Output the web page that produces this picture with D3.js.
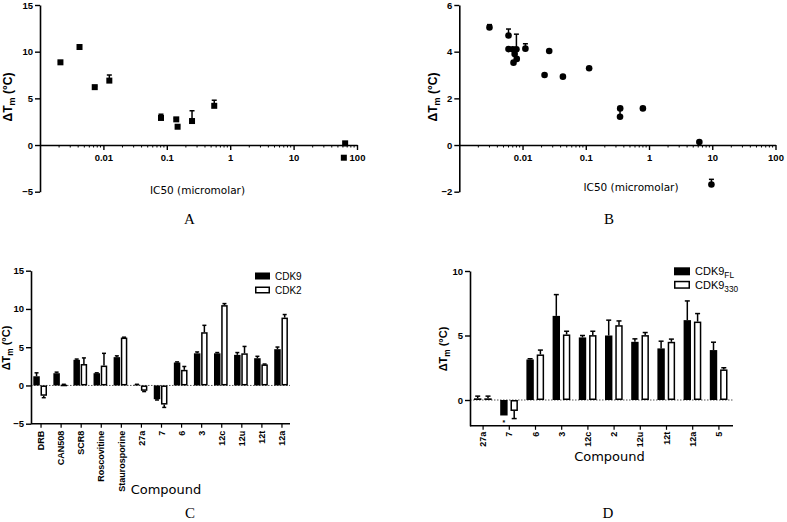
<!DOCTYPE html>
<html><head><meta charset="utf-8">
<script src="https://cdn.jsdelivr.net/npm/d3@7"></script>
<style>
body{margin:0;background:#fff}
svg{display:block}
text{font-family:"Liberation Sans",Arial,sans-serif;fill:#000}
</style></head><body>
<svg id="c" width="787" height="522"></svg>
<script>
// ---------- Panel A data ----------
const aIC50 = [0.0021, 0.0042, 0.0073, 0.0124, 0.081, 0.141, 0.148, 0.25, 0.56, 65, 62];
const aDTm  = [8.86, 10.5, 6.2, 6.9, 2.9, 2.75, 1.96, 2.57, 4.2, 0.18, -1.36];
const aErr  = [0.1, 0.1, 0.1, 0.6, 0.4, 0.1, 0.1, 1.1, 0.6, 0, 0];
const aYTicks = [-5, 0, 5, 10, 15];
// ---------- Panel B data ----------
const bIC50 = [0.003, 0.006, 0.006, 0.0070, 0.0072, 0.0081, 0.0080, 0.0075, 0.0111, 0.0223, 0.0264, 0.0435, 0.113, 0.348, 0.35, 0.80, 6.25, 9.7];
const bDTm  = [5.04, 4.69, 4.11, 4.1, 3.53, 3.69, 4.1, 3.9, 4.13, 3.0, 4.03, 2.93, 3.29, 1.21, 1.57, 1.57, 0.13, -1.69];
const bErr  = [0.12, 0.28, 0, 0, 0, 0, 0.65, 0, 0.21, 0, 0, 0, 0, 0.36, 0, 0, 0, 0.22];
const bYTicks = [-2, 0, 2, 4, 6];
const logTickLabels = ["0.01", "0.1", "1", "10", "100"];
// ---------- Panel C data ----------
const cCompounds = ["DRB","CAN508","SCR8","Roscovitine","Staurosporine","27a","7","6","3","12c","12u","12t","12a"];
const cCDK9    = [1.2, 1.6, 3.35, 1.6, 3.7, 0.1, -1.8, 3.0, 4.2, 4.2, 4.0, 3.56, 4.74];
const cCDK9Err = [0.45, 0.14, 0.1, 0.05, 0.17, 0.05, 0.1, 0.08, 0.18, 0.1, 0.3, 0.25, 0.28];
const cCDK2    = [-1.35, 0.1, 2.8, 2.6, 6.26, -0.7, -2.5, 2.04, 6.96, 10.5, 4.2, 2.75, 8.87];
const cCDK2Err = [0.25, 0.05, 0.8, 1.6, 0.05, 0.1, 0.37, 0.44, 0.9, 0.2, 0.9, 0.05, 0.4];
const cYTicks = [-5, 0, 5, 10, 15];
const cSeries = ["CDK9", "CDK2"];
// ---------- Panel D data ----------
const dCompounds = ["27a","7","6","3","12c","2","12u","12t","12a","5"];
const dFL     = [0.13, -1.2, 3.14, 6.52, 4.85, 5.0, 4.51, 4.0, 6.19, 3.87];
const dFLErr  = [0.17, 0.0, 0.06, 1.65, 0.15, 1.19, 0.23, 0.56, 1.49, 0.61];
const d330    = [0.13, -0.85, 3.53, 5.08, 5.03, 5.8, 5.03, 4.51, 6.08, 2.37];
const d330Err = [0.17, 0.59, 0.34, 0.25, 0.3, 0.33, 0.2, 0.21, 0.62, 0.13];
const dYTicks = [0, 5, 10];
const dSeries = [["CDK9","FL"], ["CDK9","330"]];

const svg = d3.select("#c");
const BOLD = "bold";

function yLabel(g, x, y, size) {
  const t = g.append("text").attr("transform", `translate(${x},${y}) rotate(-90)`)
    .attr("text-anchor", "middle").attr("font-weight", BOLD).attr("font-size", size);
  t.append("tspan").text("\u0394T");
  t.append("tspan").attr("font-size", size * 0.75).attr("dy", 3).text("m");
  t.append("tspan").attr("dy", -3).text(" (\u00B0C)");
}
function panelLetter(x, y, s) {
  svg.append("text").attr("x", x).attr("y", y).attr("text-anchor", "middle")
    .style("font-family", "'Liberation Serif','Times New Roman',serif").attr("font-size", 15).text(s);
}
function yAxis(g, y, x0, ticks) {
  const ax = d3.axisLeft(y).tickValues(ticks).tickSize(5).tickPadding(2).tickSizeOuter(0);
  const gg = g.append("g").attr("transform", `translate(${x0},0)`).call(ax);
  gg.select(".domain").attr("stroke-width", 1.6);
  gg.selectAll(".tick line").attr("stroke-width", 1.4);
  gg.selectAll("text").attr("font-size", 9.5).attr("font-weight", BOLD)
    .style("font-family", "'Liberation Sans',Arial,sans-serif");
  return gg;
}

// ---------- Scatter panels ----------
function scatterPanel(opts) {
  const g = svg.append("g");
  const x = d3.scaleLog().domain([0.001, 100]).range(opts.xr);
  const y = d3.scaleLinear().domain(opts.yd).range(opts.yr);
  yAxis(g, y, opts.xr[0], opts.yTicks);
  const majors = [0.01, 0.1, 1, 10, 100];
  const minors = [];
  for (let e = -3; e < 2; e++) for (let k = 2; k <= 9; k++) minors.push(k * Math.pow(10, e));
  const ax = d3.axisBottom(x).tickValues(majors).tickFormat((d, i) => logTickLabels[i])
    .tickSize(5).tickPadding(4).tickSizeOuter(0);
  const gx = g.append("g").attr("transform", `translate(0,${y(0)})`).call(ax);
  gx.select(".domain").attr("stroke-width", 1.6);
  gx.selectAll(".tick line").attr("stroke-width", 1.4);
  gx.selectAll("text").attr("font-size", 9.5).attr("font-weight", BOLD)
    .style("font-family", "'Liberation Sans',Arial,sans-serif");
  g.append("g").selectAll("line").data(minors).join("line")
    .attr("x1", d => x(d)).attr("x2", d => x(d))
    .attr("y1", y(0)).attr("y2", y(0) + 2.5).attr("stroke", "#000").attr("stroke-width", 1);
  const idx = d3.range(opts.xs.length);
  const eb = g.append("g").attr("stroke", "#000").attr("stroke-width", 1.5);
  idx.filter(i => opts.err[i] > 0).forEach(i => {
    const cx = x(opts.xs[i]), y0 = y(opts.ys[i]), y1 = y(opts.ys[i] + opts.err[i]);
    eb.append("line").attr("x1", cx).attr("x2", cx).attr("y1", y0).attr("y2", y1);
    eb.append("line").attr("x1", cx - 2.5).attr("x2", cx + 2.5).attr("y1", y1).attr("y2", y1);
  });
  if (opts.shape === "square") {
    g.append("g").selectAll("rect").data(idx).join("rect")
      .attr("x", i => x(opts.xs[i]) - 3).attr("y", i => y(opts.ys[i]) - 3)
      .attr("width", 6).attr("height", 6).attr("fill", "#000");
  } else {
    g.append("g").selectAll("circle").data(idx).join("circle")
      .attr("cx", i => x(opts.xs[i])).attr("cy", i => y(opts.ys[i]))
      .attr("r", 3.3).attr("fill", "#000");
  }
  g.append("text").attr("x", opts.xlab[0]).attr("y", opts.xlab[1]).attr("text-anchor", "middle")
    .style("font-family", "'DejaVu Sans',sans-serif").attr("font-size", 10.5).text("IC50 (micromolar)");
  yLabel(g, opts.ylab[0], opts.ylab[1], 12);
}

scatterPanel({xs: aIC50, ys: aDTm, err: aErr, shape: "square",
  xr: [40, 357], yd: [-5, 15], yr: [191.7, 5], yTicks: aYTicks,
  xlab: [197.5, 194], ylab: [12, 97]});
scatterPanel({xs: bIC50, ys: bDTm, err: bErr, shape: "circle",
  xr: [459.3, 775.5], yd: [-2, 6], yr: [191.7, 5], yTicks: bYTicks,
  xlab: [631, 191], ylab: [437, 97]});
panelLetter(189.5, 224, "A");
panelLetter(609, 224, "B");

// ---------- Bar panels ----------
function barPanel(opts) {
  const g = svg.append("g");
  const x0 = d3.scaleBand().domain(opts.cats).range(opts.xr).padding(0);
  const x1 = d3.scaleBand().domain([0, 1]).range(opts.innerR).paddingInner(opts.innerP);
  const y = d3.scaleLinear().domain(opts.yd).range(opts.yr);
  g.append("line").attr("x1", opts.xr[0]).attr("x2", opts.xEnd).attr("y1", y(0)).attr("y2", y(0))
    .attr("stroke", "#555").attr("stroke-width", 1).attr("stroke-dasharray", "1.5,1.5");
  const series = [opts.s0, opts.s1], errs = [opts.e0, opts.e1];
  series.forEach((vals, s) => {
    const gb = g.append("g");
    vals.forEach((v, i) => {
      const e = errs[s][i];
      if (!(e > 0)) return;
      const cx = x0(opts.cats[i]) + x1(s) + x1.bandwidth() / 2;
      const yb = y(v), ye = y(v >= 0 ? v + e : v - e);
      gb.append("line").attr("x1", cx).attr("x2", cx).attr("y1", yb).attr("y2", ye)
        .attr("stroke", "#000").attr("stroke-width", 1.5);
      gb.append("line").attr("x1", cx - opts.cap).attr("x2", cx + opts.cap).attr("y1", ye).attr("y2", ye)
        .attr("stroke", "#000").attr("stroke-width", 1.5);
    });
    gb.selectAll("rect").data(vals).join("rect")
      .attr("x", (v, i) => x0(opts.cats[i]) + x1(s) + (s ? 0.75 : 0))
      .attr("width", x1.bandwidth() - (s ? 1.5 : 0))
      .attr("y", v => Math.min(y(v), y(0)) + (s ? 0.75 : 0))
      .attr("height", v => Math.max(0.1, Math.abs(y(v) - y(0)) - (s ? 1.5 : 0)))
      .attr("fill", s ? "#fff" : "#000")
      .attr("stroke", "#000").attr("stroke-width", s ? 1.5 : 0);
  });
  yAxis(g, y, opts.xr[0], opts.yTicks);
  const ax = d3.axisBottom(x0).tickSize(4).tickSizeOuter(0).tickPadding(3);
  const gx = g.append("g").attr("transform", `translate(0,${opts.yr[0]})`).call(ax);
  gx.select(".domain").attr("d", `M${opts.xr[0]},0H${opts.xEnd}`).attr("stroke-width", 1.6);
  gx.selectAll(".tick line").attr("stroke-width", 1.2);
  gx.selectAll("text").attr("font-size", 9).attr("font-weight", BOLD)
    .style("font-family", "'Liberation Sans',Arial,sans-serif")
    .attr("text-anchor", "end").attr("dy", "0.35em")
    .attr("transform", `translate(0,${opts.labOff}) rotate(-90)`).attr("x", 0).attr("y", 0);
  g.append("text").attr("x", opts.xlab[0]).attr("y", opts.xlab[1]).attr("text-anchor", "middle")
    .style("font-family", "'DejaVu Sans',sans-serif").attr("font-size", 13).text("Compound");
  yLabel(g, opts.ylab[0], opts.ylab[1], opts.ylabSize);
  opts.legend.forEach((lab, s) => {
    const ly = opts.legPos[1] + s * opts.legGap;
    g.append("rect").attr("x", opts.legPos[0] + (s ? 0.75 : 0)).attr("y", ly + (s ? 0.75 : 0))
      .attr("width", opts.legW - (s ? 1.5 : 0)).attr("height", opts.legH - (s ? 1.5 : 0))
      .attr("fill", s ? "#fff" : "#000").attr("stroke", "#000").attr("stroke-width", s ? 1.5 : 0);
    const t = g.append("text").attr("x", opts.legPos[0] + opts.legW + 5).attr("y", ly + opts.legH / 2)
      .attr("dy", "0.35em").attr("font-size", opts.legFont);
    if (Array.isArray(lab)) {
      t.append("tspan").text(lab[0]);
      t.append("tspan").attr("font-size", opts.legFont * 0.75).attr("dy", 3).text(lab[1]);
    } else t.text(lab);
  });
  return {g, x0, x1, y};
}

barPanel({cats: cCompounds, s0: cCDK9, e0: cCDK9Err, s1: cCDK2, e1: cCDK2Err,
  xr: [31, 292], xEnd: 290, innerR: [2.3, 16], innerP: 0.1, cap: 2,
  yd: [-5, 15], yr: [423.7, 270.7], yTicks: cYTicks, labOff: 7,
  xlab: [166, 494], ylab: [10, 348], ylabSize: 11,
  legend: cSeries, legPos: [255, 272.5], legW: 15, legH: 7, legGap: 14, legFont: 10});

const D = barPanel({cats: dCompounds, s0: dFL, e0: dFLErr, s1: d330, e1: d330Err,
  xr: [470, 732], xEnd: 733, innerR: [4, 21.7], innerP: 0.28, cap: 2.5,
  yd: [-2, 10], yr: [425.8, 271], yTicks: dYTicks, labOff: 6,
  xlab: [609.5, 461], ylab: [447, 349], ylabSize: 11,
  legend: dSeries, legPos: [674, 267.3], legW: 16, legH: 8, legGap: 13.5, legFont: 11});
D.g.append("text").attr("x", D.x0("7") + D.x1(0) + D.x1.bandwidth() / 2).attr("y", D.y(-1.65))
  .attr("text-anchor", "middle").attr("dy", "0.6em").attr("font-size", 7).attr("font-weight", BOLD).text("*");

panelLetter(190, 518, "C");
panelLetter(608, 518, "D");
</script>
</body></html>
